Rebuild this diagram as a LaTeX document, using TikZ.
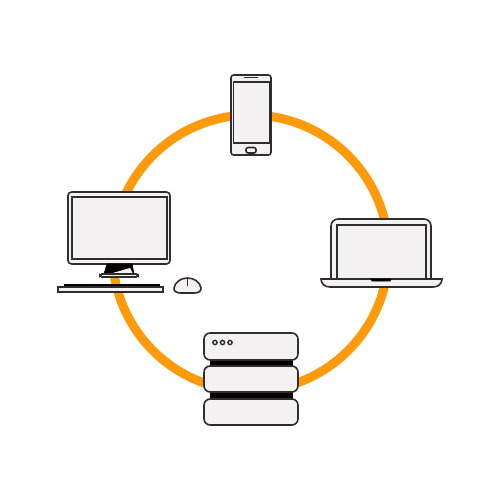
\documentclass[tikz,border=0pt]{standalone}
\usepackage{xcolor}
\usetikzlibrary{calc}
\definecolor{ringorange}{HTML}{FF9A0A}
\definecolor{bodygrey}{HTML}{F3F1F2}
\definecolor{edgegrey}{HTML}{2E2E2E}
\tikzset{
  device/.style={draw=edgegrey,fill=bodygrey,line width=0.9pt,rounded corners=#1},
  device/.default=2pt,
  solidpart/.style={draw=black,fill=black,line width=0.4pt},
}
\begin{document}
\begin{tikzpicture}[x=0.02cm,y=-0.02cm]
  \useasboundingbox (0,0) rectangle (500,500);
  \coordinate (hub) at (250.5,253);

  % ring
  \draw[ringorange,line width=5.1pt] (hub) circle (138);

  % phone
  \coordinate (phoneA) at (231,75);
  \coordinate (phoneB) at (271,155);
  \draw[device=1.5pt] (phoneA) rectangle (phoneB);
  \draw[device=0pt,line width=1.1pt] (233.5,82) rectangle (269.5,143);
  \draw[edgegrey,line width=1.1pt] (244,77.5) -- (258,77.5);
  \draw[device=1.2pt] (246,147.5) rectangle (256,153);

  % monitor
  \coordinate (screenA) at (68,192);
  \coordinate (screenB) at (170,264);
  \draw[device=2pt] (screenA) rectangle (screenB);
  \draw[device=0pt,line width=1.2pt] (72,197) rectangle (167,259);
  \draw[solidpart] (107,264) -- (132,264) -- (134,274) -- (104,274) -- cycle;
  \fill[bodygrey] (109,274) -- (130,268) -- (133,274) -- cycle;
  \draw[device=1pt] (100,274) rectangle (138,277);
  \draw[solidpart] (64,284) rectangle (159,287);
  \draw[device=0pt] (58,287) rectangle (163,292);
  \draw[device=0pt] (174,288) .. controls (175,282) and (181,278) .. (187.5,278)
    .. controls (194,278) and (200,282) .. (201,288)
    .. controls (201.5,291.5) and (198,293) .. (194,293)
    -- (181,293) .. controls (177,293) and (173.5,291.5) .. (174,288) -- cycle;
  \draw[edgegrey,line width=0.9pt] (187.5,278) -- (187.5,286);

  % laptop
  \coordinate (lidA) at (331,279);
  \coordinate (lidB) at (431,219);
  \draw[device=0pt] (lidA) -- (331,226) to[out=90,in=180] (338,219)
    -- (424,219) to[out=0,in=90] (431,226) -- (lidB |- lidA);
  \draw[device=0pt,line width=1.1pt] (337,279) -- (337,225) -- (426,225) -- (426,279);
  \draw[device=0pt] (321,279) -- (442,279) .. controls (442,284) and (438,287) .. (433,287)
    -- (330,287) .. controls (325,287) and (321,284) .. (321,279) -- cycle;
  \draw[solidpart] (371,279) -- (391,279) -- (390,281) -- (372,281) -- cycle;

  % server
  \draw[solidpart] (210,358) rectangle (292,368);
  \draw[solidpart] (210,390) rectangle (292,401);
  \foreach \rackA/\rackB in {333/360,366/392,399/425}{
    \draw[device=3.5pt] (204,\rackA) rectangle (298,\rackB);
  }
  \foreach \dotx in {215,222.5,230}{
    \draw[edgegrey,fill=bodygrey,line width=0.8pt] (\dotx,342.5) circle (2.1);
  }
\end{tikzpicture}
\end{document}
